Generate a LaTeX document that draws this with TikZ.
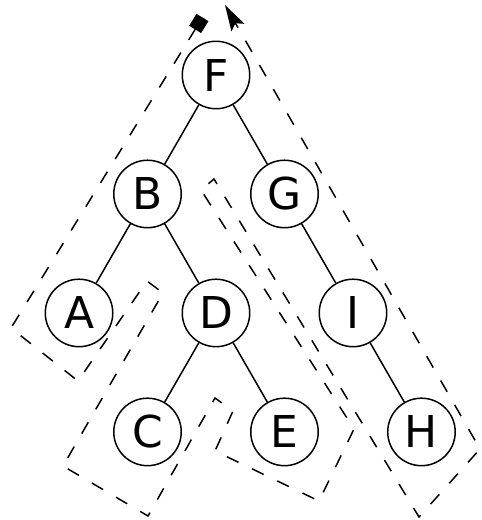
\documentclass[tikz,border=0pt]{standalone}
\usepackage{fontspec}
\setmainfont{DejaVu Sans}
\usepackage{tikz}
\usetikzlibrary{positioning,arrows.meta}

\begin{document}
\begin{tikzpicture}[x=0.02cm, y=-0.02cm, font=\fontsize{25}{30}\selectfont,
		vertex/.style={draw, circle, line width=0.85pt, minimum size=1.35cm, inner sep=0pt},
		edge/.style={line width=0.85pt},
		tour/.style={dash pattern=on 0.26cm off 0.3cm, line width=0.85pt,
		{Square[length=0.28cm,width=0.28cm]}-{Stealth[length=0.52cm,width=0.3cm,inset=0.1cm]}},
		node distance=2.38cm and 1.37cm, on grid]

		\useasboundingbox (0,0) rectangle (481,520);

		\node[vertex] (F) at (216,75) {F};
		\node[vertex, below left=of F] (B) {B};
		\node[vertex, below right=of F] (G) {G};
		\node[vertex, below left=of B] (A) {A};
		\node[vertex, below right=of B] (D) {D};
		\node[vertex, below right=of G] (I) {I};
		\node[vertex, below left=of D] (C) {C};
		\node[vertex, below right=of D] (E) {E};
		\node[vertex, below right=of I] (H) {H};

		\foreach \a/\b in {F/B, F/G, B/A, B/D, G/I, D/C, D/E, I/H}{
			\draw[edge] (\a) -- (\b);
		}

		\draw[tour] (202.5,17.5) -- (11,328) -- (78,381) -- (147,281) -- (163,293)
			-- (63,466) -- (148,516) -- (215,398) -- (233,411) -- (215,451)
			-- (319,501) -- (354,429) -- (201,190) -- (214,179) -- (419,517)
			-- (480,449) -- (225,5);
	\end{tikzpicture}
\end{document}
